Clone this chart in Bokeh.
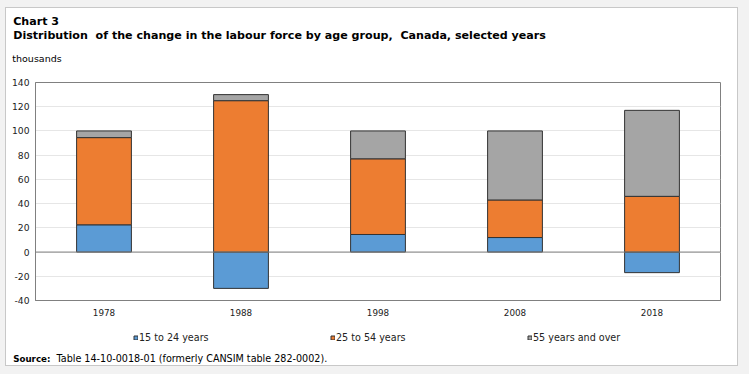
from bokeh.plotting import figure
from bokeh.layouts import column
from bokeh.models import (ColumnDataSource, FactorRange, Range1d, FixedTicker, Span,
                          Label, Legend, LegendItem, Plot)
from bokeh.embed import file_html
from bokeh.resources import INLINE

years = ["1978", "1988", "1998", "2008", "2018"]
age_15_24 = [22.5, -30, 14.5, 12, -17]
age_25_54 = [72, 125, 62.5, 31, 46]
age_55_over = [5.5, 5, 23, 57, 71]
series_names = ["15 to 24 years", "25 to 54 years", "55 years and over"]
colors = ["#5b9bd5", "#ed7d31", "#a5a5a5"]
y_ticks = [-40, -20, 0, 20, 40, 60, 80, 100, 120, 140]

# stacked bottoms / tops (negatives stack below zero separately)
b_bot = [min(v, 0) for v in age_15_24]
b_top = [max(v, 0) for v in age_15_24]
o_bot = b_top
o_top = [a + b for a, b in zip(o_bot, age_25_54)]
g_bot = o_top
g_top = [a + b for a, b in zip(g_bot, age_55_over)]

src = ColumnDataSource(dict(x=years, b_bot=b_bot, b_top=b_top, o_bot=o_bot,
                            o_top=o_top, g_bot=g_bot, g_top=g_top))
stack_cols = [("b_bot", "b_top"), ("o_bot", "o_top"), ("g_bot", "g_top")]

W = 731
HAS_FRAME_ALIGN = "frame_align" in Plot.properties()

def no_align(f):
    if HAS_FRAME_ALIGN:
        f.frame_align = False

def text_fig(h):
    f = figure(width=W, height=h, output_backend="svg", toolbar_location=None,
               x_range=FactorRange(*years, range_padding=0), y_range=Range1d(-40, 140),
               x_axis_type=None, y_axis_type=None, min_border=0)
    f.outline_line_color = None
    f.background_fill_color = "white"
    f.border_fill_color = "white"
    f.grid.visible = False
    no_align(f)
    return f

def lab(f, text, x, y, size, bold=False, color="#000000"):
    f.add_layout(Label(x=x, y=y, x_units="screen", y_units="screen", text=text,
                       text_font="DejaVu Sans", text_font_size=size,
                       text_font_style="bold" if bold else "normal",
                       text_color=color, text_baseline="alphabetic"))

# ---- header ----
p_top = text_fig(70)
lab(p_top, "Chart 3", 6.7, 57, "11.1px", True)
lab(p_top, "Distribution\u00a0 of the change in the labour force by age group,\u00a0 Canada, selected years",
    6.7, 43.5, "11.1px", True)
lab(p_top, "thousands", 5.8, 20, "9.5px")

# ---- chart ----
p = figure(x_range=FactorRange(*years, range_padding=0), y_range=Range1d(-40, 140),
           width=W, height=243, output_backend="svg", toolbar_location=None,
           min_border_left=29, min_border_right=17, min_border_top=4, min_border_bottom=21)
no_align(p)
p.background_fill_color = "white"
p.border_fill_color = "white"
p.outline_line_color = "#808080"
p.outline_line_width = 1

for (lo, hi), c in zip(stack_cols, colors):
    p.vbar(x="x", bottom=lo, top=hi, width=0.4, source=src,
           fill_color=c, line_color="#333333", line_width=1)

p.add_layout(Span(location=0, dimension="width", line_color="#808080", line_width=1))

p.yaxis.ticker = FixedTicker(ticks=y_ticks)
p.yaxis.major_label_overrides = {t: str(t) for t in y_ticks}
for ax in (p.xaxis[0], p.yaxis[0]):
    ax.major_tick_line_color = None
    ax.minor_tick_line_color = None
    ax.major_tick_out = 0
    ax.major_tick_in = 0
    ax.minor_tick_out = 0
    ax.axis_label_standoff = 0
    ax.axis_line_color = "#808080"
    ax.major_label_text_font = "DejaVu Sans"
    ax.major_label_text_color = "#222222"
p.yaxis.major_label_text_font_size = "9.2px"
p.xaxis.major_label_text_font_size = "8.8px"
p.yaxis.major_label_standoff = 6
p.xaxis.major_label_standoff = 8
p.xgrid.grid_line_color = None
p.ygrid.grid_line_color = "#e6e6e6"
p.ygrid.grid_line_width = 1

# ---- legend + source ----
p_bot = text_fig(44)
key_renderers = [p_bot.vbar(x="x", bottom=lo, top=hi, width=0.4, source=src, visible=False,
                            fill_color=c, line_color="#333333")
                 for (lo, hi), c in zip(stack_cols, colors)]
legend = Legend(items=[LegendItem(label=n, renderers=[r]) for n, r in zip(series_names, key_renderers)],
                orientation="horizontal", location=(127, 22),
                glyph_width=5, glyph_height=5, label_standoff=1, label_width=191,
                label_height=7, spacing=0, padding=0, margin=0,
                border_line_alpha=0, background_fill_alpha=0,
                inactive_fill_alpha=0,
                label_text_font="DejaVu Sans", label_text_font_size="9.6px",
                label_text_color="#222222")
p_bot.add_layout(legend, "center")
lab(p_bot, "Source:", 6.7, 7, "8.7px", True)
lab(p_bot, "Table 14-10-0018-01 (formerly CANSIM table 282-0002).", 50, 7, "9.6px")

layout = column(p_top, p, p_bot, spacing=0,
                styles={"border": "1px solid #c8c8c8", "margin-left": "5px", "margin-top": "7px",
                        "box-shadow": "0 0 0 12px #f2f2f2"})

open("out.html", "w").write(file_html(layout, INLINE))
